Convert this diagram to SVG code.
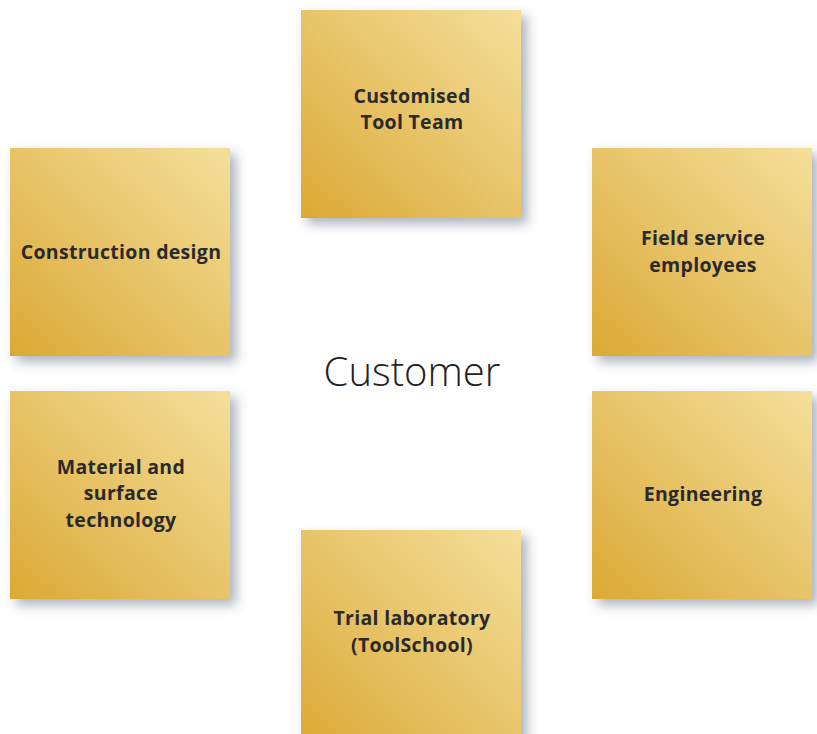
<svg xmlns="http://www.w3.org/2000/svg" width="817" height="734" viewBox="0 0 817 734">
<defs>
<linearGradient id="gold" x1="0" y1="1" x2="1" y2="0">
<stop offset="0" stop-color="#dba935"/>
<stop offset="0.5" stop-color="#e8c469"/>
<stop offset="1" stop-color="#f4df9a"/>
</linearGradient>
<filter id="sh" x="-20%" y="-20%" width="150%" height="150%">
<feGaussianBlur in="SourceAlpha" stdDeviation="6"/>
<feOffset dx="6" dy="6" result="b"/>
<feFlood flood-color="#3a4a60" flood-opacity="0.42"/>
<feComposite in2="b" operator="in"/>
<feMerge><feMergeNode/><feMergeNode in="SourceGraphic"/></feMerge>
</filter>
<style>
.box{fill:url(#gold);filter:url(#sh)}
.lbl{font-family:"Open Sans","Noto Sans",sans-serif;font-weight:bold;font-size:19.5px;letter-spacing:0.3px;fill:#2a2a2a;text-anchor:middle}
.ctr{font-family:"Open Sans","Noto Sans",sans-serif;font-weight:300;font-size:40px;fill:#222;text-anchor:middle}
</style>
</defs>
<rect width="817" height="734" fill="#fff"/>
<g id="connectors"/>
<g id="customer"><text class="ctr" x="412" y="386">Customer</text></g>
<g id="n-tool-team"><rect class="box" x="301" y="10" width="220" height="208"/>
<text class="lbl" x="412" y="103">Customised</text><text class="lbl" x="412" y="129">Tool Team</text></g>
<g id="n-construction"><rect class="box" x="10" y="148" width="220" height="208"/>
<text class="lbl" x="121" y="259">Construction design</text></g>
<g id="n-field"><rect class="box" x="592" y="148" width="220" height="208"/>
<text class="lbl" x="703" y="245">Field service</text><text class="lbl" x="703" y="272">employees</text></g>
<g id="n-material"><rect class="box" x="10" y="391" width="220" height="208"/>
<text class="lbl" x="121" y="474">Material and</text><text class="lbl" x="121" y="500">surface</text><text class="lbl" x="121" y="527">technology</text></g>
<g id="n-engineering"><rect class="box" x="592" y="391" width="220" height="208"/>
<text class="lbl" x="703" y="501">Engineering</text></g>
<g id="n-trial"><rect class="box" x="301" y="530" width="220" height="220"/>
<text class="lbl" x="412" y="625">Trial laboratory</text><text class="lbl" x="412" y="652">(ToolSchool)</text></g>
</svg>
